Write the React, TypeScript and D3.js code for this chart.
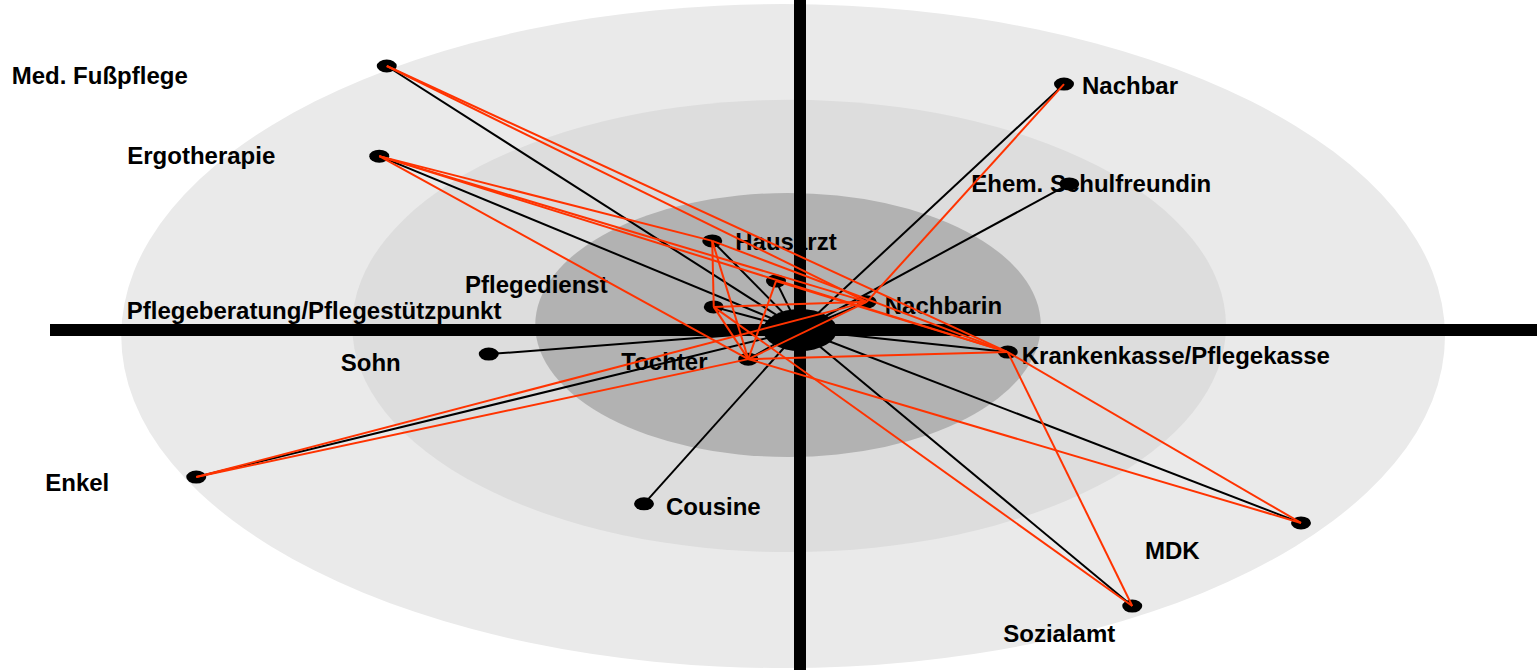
import React from 'react';
import * as d3 from 'd3';

// network actors, placed on a plane where the two axes cross at (0, 0)
const actors = [
  'Med. Fußpflege', 'Ergotherapie', 'Hausarzt', 'Pflegedienst',
  'Pflegeberatung/Pflegestützpunkt', 'Nachbarin', 'Sohn', 'Tochter',
  'Krankenkasse/Pflegekasse', 'Enkel', 'Cousine', 'MDK', 'Sozialamt',
  'Nachbar', 'Ehem. Schulfreundin',
];
const actorX = [-55.1, -56.1, -11.7, -3.2, -11.5, 8.9, -41.5, -6.9, 27.7, -80.5, -20.8, 66.8, 44.3, 35.2, 35.9];
const actorY = [78.8, 51.9, 26.6, 14.6, 6.9, 8.4, -7.2, -8.7, -6.6, -43.9, -51.9, -57.6, -82.4, 73.4, 43.6];

// relations between actors (red)
const relations: [string, string][] = [
  ['Med. Fußpflege', 'Krankenkasse/Pflegekasse'],
  ['Med. Fußpflege', 'Nachbarin'],
  ['Ergotherapie', 'Hausarzt'],
  ['Ergotherapie', 'Nachbarin'],
  ['Ergotherapie', 'Krankenkasse/Pflegekasse'],
  ['Ergotherapie', 'Tochter'],
  ['Hausarzt', 'Krankenkasse/Pflegekasse'],
  ['Hausarzt', 'Tochter'],
  ['Hausarzt', 'Pflegeberatung/Pflegestützpunkt'],
  ['Pflegedienst', 'Tochter'],
  ['Pflegedienst', 'Krankenkasse/Pflegekasse'],
  ['Pflegeberatung/Pflegestützpunkt', 'Nachbarin'],
  ['Pflegeberatung/Pflegestützpunkt', 'Tochter'],
  ['Pflegeberatung/Pflegestützpunkt', 'Sozialamt'],
  ['Tochter', 'Nachbarin'],
  ['Tochter', 'Krankenkasse/Pflegekasse'],
  ['Tochter', 'MDK'],
  ['Nachbarin', 'Nachbar'],
  ['Enkel', 'Tochter'],
  ['Enkel', 'Nachbarin'],
  ['Krankenkasse/Pflegekasse', 'MDK'],
  ['Krankenkasse/Pflegekasse', 'Sozialamt'],
];

// rings: left, right, top, bottom
const ringLeft = [-90.5, -59.7, -35.3];
const ringRight = [86, 56.8, 32.1];
const ringTop = [97.3, 68.7, 40.9];
const ringBottom = [-100.9, -66.3, -37.9];

const W = 1537;
const H = 670;

// label placement relative to the node (px)
const labelDx = [-375, -252, 23, -311, -587, 18, -148, -127, 14, -151, 22, -156, -129, 18, -98];
const labelDy = [18, 8, 9, 12, 12, 12, 17, 11, 12, 14, 11, 36, 36, 10, 8];
const ringFill = ['#eaeaea', '#dddddd', '#b2b2b2'];

export default function App() {
  const x = d3.scaleLinear().domain([-100, 100]).range([50, 1550]);
  const y = d3.scaleLinear().domain([100, -100]).range([-5, 665]);

  const pos = new Map(actors.map((a, i) => [a, [x(actorX[i]), y(actorY[i])]]));
  const cx = x(0);
  const cy = y(0);
  const line = d3.line();

  return (
    <svg width={W} height={H} style={{ position: 'absolute', left: 0, top: 0, background: '#fff' }}
      fontFamily="Liberation Sans, Arial, sans-serif">
      {ringFill.map((f, i) => (
        <ellipse key={i}
          cx={(x(ringLeft[i]) + x(ringRight[i])) / 2}
          cy={(y(ringTop[i]) + y(ringBottom[i])) / 2}
          rx={(x(ringRight[i]) - x(ringLeft[i])) / 2}
          ry={(y(ringBottom[i]) - y(ringTop[i])) / 2}
          fill={f} />
      ))}
      {actors.map((a, i) => (
        <text key={a} x={pos.get(a)![0] + labelDx[i]} y={pos.get(a)![1] + labelDy[i]}
          fontSize={24} fontWeight="bold" fill="#000">{a}</text>
      ))}
      <rect x={cx - 6} y={0} width={12} height={H} fill="#000" />
      <rect x={50} y={cy - 6} width={W - 50} height={12} fill="#000" />
      <ellipse cx={cx} cy={cy} rx={37} ry={21} fill="#000" />
      {actors.map(a => (
        <ellipse key={a} cx={pos.get(a)![0]} cy={pos.get(a)![1]} rx={10} ry={6.5} fill="#000" />
      ))}
      {actors.map(a => (
        <path key={a} d={line([[cx, cy], pos.get(a) as [number, number]])!}
          stroke="#000" strokeWidth={2} fill="none" />
      ))}
      {relations.map(([s, t], i) => (
        <path key={i} d={line([pos.get(s) as [number, number], pos.get(t) as [number, number]])!}
          stroke="#ff3300" strokeWidth={2} fill="none" />
      ))}
    </svg>
  );
}
